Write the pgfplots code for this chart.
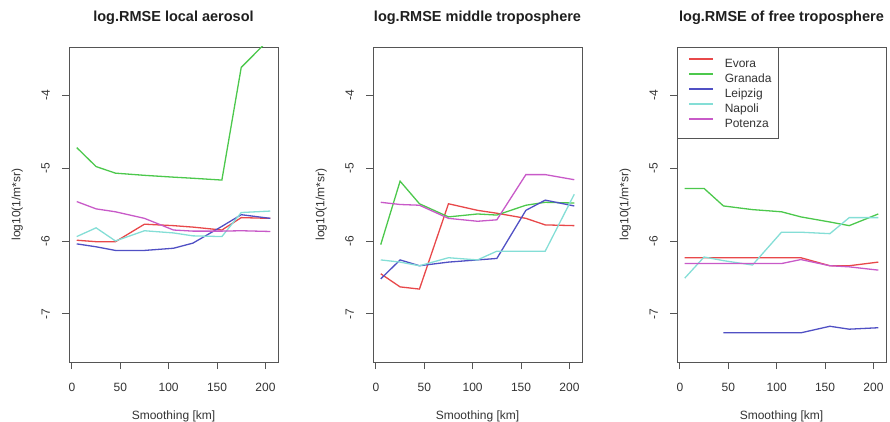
\documentclass[border=0pt]{standalone}
\usepackage{fontspec}
\setmainfont{Liberation Sans}
\usepackage{pgfplots}
\usepackage{pgfplotstable}
\pgfplotsset{compat=1.18}
\definecolor{cEvora}{HTML}{E8484A}
\definecolor{cGranada}{HTML}{4CC84C}
\definecolor{cLeipzig}{HTML}{5050C4}
\definecolor{cNapoli}{HTML}{84DED6}
\definecolor{cPotenza}{HTML}{C85AC8}
\definecolor{axiscol}{HTML}{555555}
\definecolor{txtcol}{HTML}{333333}

\pgfplotstableread{
x    Evora   Granada  Leipzig  Napoli  Potenza
5    -5.99   -4.72    -6.04    -5.94   -5.46
25   -6.01   -4.98    -6.08    -5.82   -5.56
45   -6.01   -5.07    -6.13    -6.00   -5.60
75   -5.77   -5.10    -6.13    -5.86   -5.69
105  -5.79   -5.125   -6.10    -5.89   -5.85
125  -5.81   -5.14    -6.03    -5.93   -5.865
155  -5.85   -5.165   -5.80    -5.94   -5.865
175  -5.68   -3.62    -5.64    -5.61   -5.86
205  -5.69   -3.22    -5.69    -5.59   -5.87
}\local

\pgfplotstableread{
x    Evora   Granada  Leipzig  Napoli  Potenza
5    -6.45   -6.05    -6.52    -6.26   -5.47
25   -6.63   -5.18    -6.26    -6.29   -5.50
45   -6.66   -5.49    -6.34    -6.34   -5.51
75   -5.49   -5.67    -6.29    -6.23   -5.69
105  -5.58   -5.63    -6.26    -6.26   -5.73
125  -5.62   -5.645   -6.24    -6.14   -5.71
155  -5.69   -5.51    -5.58    -6.14   -5.09
175  -5.78   -5.47    -5.44    -6.14   -5.09
205  -5.79   -5.48    -5.52    -5.36   -5.16
}\middle

\pgfplotstableread{
x    Evora   Granada  Leipzig  Napoli  Potenza
5    -6.23   -5.28    nan      -6.51   -6.31
25   -6.23   -5.28    nan      -6.22   -6.31
45   -6.23   -5.52    -7.26    -6.27   -6.31
75   -6.23   -5.57    -7.26    -6.33   -6.31
105  -6.23   -5.60    -7.26    -5.88   -6.31
125  -6.23   -5.67    -7.26    -5.88   -6.255
155  -6.34   -5.74    -7.17    -5.90   -6.34
175  -6.34   -5.79    -7.21    -5.68   -6.355
205  -6.29   -5.63    -7.19    -5.68   -6.40
}\free

\pgfplotsset{
  rpanel/.style={
    scale only axis, width=209bp, height=315bp,
    xmin=-3, xmax=213, ymin=-7.66, ymax=-3.34,
    xtick={0,50,100,150,200}, ytick={-7,-6,-5,-4},
    tick align=outside, xtick pos=left, ytick pos=left,
    major tick length=7bp,
    axis line style={draw=axiscol, line width=0.9bp},
    every tick/.style={draw=axiscol, line width=0.9bp},
    /pgf/number format/assume math mode=true,
    ticklabel style={font=\fontsize{12bp}{14bp}\selectfont, text=txtcol},
    yticklabel style={rotate=90, anchor=south, inner sep=0pt, yshift=12bp},
    xticklabel style={anchor=north, inner sep=0pt, yshift=-14bp},
    label style={font=\fontsize{12bp}{14bp}\selectfont, text=txtcol},
    xlabel={Smoothing [km]},
    ylabel={log10(1/m*sr)},
    xlabel style={at={(axis description cs:0.5,-0.1819)}, anchor=base, inner sep=0pt},
    ylabel style={at={(axis description cs:-0.233,0.5)}, anchor=base, inner sep=0pt},
    title style={at={(axis description cs:0.5,1.0629)}, anchor=base, inner sep=0pt,
      font=\fontsize{14.5bp}{17bp}\selectfont\bfseries, text=black!88},
    every axis plot/.append style={line width=1.3bp, no markers},
    unbounded coords=jump,
  }
}

\begin{document}
\begin{tikzpicture}
\path[use as bounding box] (0,0) rectangle (890bp,422bp);

\begin{axis}[rpanel, at={(69bp,60bp)}, title={log.RMSE local aerosol}]
\addplot[draw=cEvora] table[x=x,y=Evora] {\local};
\addplot[draw=cGranada] table[x=x,y=Granada] {\local};
\addplot[draw=cLeipzig] table[x=x,y=Leipzig] {\local};
\addplot[draw=cNapoli] table[x=x,y=Napoli] {\local};
\addplot[draw=cPotenza] table[x=x,y=Potenza] {\local};
\end{axis}

\begin{axis}[rpanel, at={(373bp,60bp)}, title={log.RMSE middle troposphere}]
\addplot[draw=cEvora] table[x=x,y=Evora] {\middle};
\addplot[draw=cGranada] table[x=x,y=Granada] {\middle};
\addplot[draw=cLeipzig] table[x=x,y=Leipzig] {\middle};
\addplot[draw=cNapoli] table[x=x,y=Napoli] {\middle};
\addplot[draw=cPotenza] table[x=x,y=Potenza] {\middle};
\end{axis}

\begin{axis}[rpanel, at={(677bp,60bp)}, title={log.RMSE of free troposphere},
  legend style={at={(axis description cs:0,1)}, anchor=north west,
    draw=axiscol, line width=0.9bp, fill=white,
    inner xsep=7bp, inner ysep=8.2bp, row sep=0pt,
    font=\fontsize{12bp}{14bp}\selectfont, text=txtcol,
    nodes={inner sep=0pt, text height=12bp, text depth=3bp},
    /tikz/every odd column/.append style={column sep=11bp}},
  legend cell align=left,
  legend image code/.code={\path (0bp,0bp); \draw[#1, line width=1.3bp] (4bp,4bp) -- (28bp,4bp);}]
\addplot[draw=cEvora] table[x=x,y=Evora] {\free};
\addlegendentry{Evora}
\addplot[draw=cGranada] table[x=x,y=Granada] {\free};
\addlegendentry{Granada}
\addplot[draw=cLeipzig] table[x=x,y=Leipzig] {\free};
\addlegendentry{Leipzig}
\addplot[draw=cNapoli] table[x=x,y=Napoli] {\free};
\addlegendentry{Napoli}
\addplot[draw=cPotenza] table[x=x,y=Potenza] {\free};
\addlegendentry{Potenza}
\end{axis}
\end{tikzpicture}
\end{document}
